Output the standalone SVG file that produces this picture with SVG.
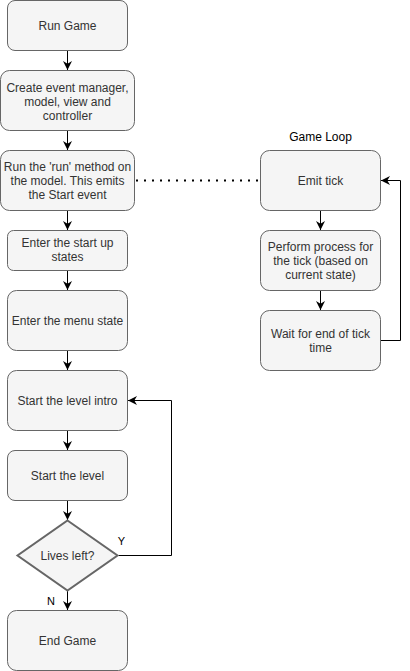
<svg xmlns="http://www.w3.org/2000/svg" width="410" height="671" viewBox="0 0 410 671">
<defs>
<style>
.box{fill:#f5f5f5;stroke:#666666;stroke-width:1}
.dia{fill:#f5f5f5;stroke:#666666;stroke-width:2}
.t{font-family:"Liberation Sans",Arial,sans-serif;font-size:12px;fill:#333333;text-anchor:middle}
.lbl{font-family:"Liberation Sans",Arial,sans-serif;font-size:11px;fill:#000000;text-anchor:middle}
.title{font-family:"Liberation Sans",Arial,sans-serif;font-size:12px;fill:#000000;text-anchor:middle}
.c{fill:none;stroke:#000000;stroke-width:1}
.dot{fill:none;stroke:#000000;stroke-width:2;stroke-dasharray:2 6}
</style>
<marker id="arr" viewBox="0 0 10 10" refX="10" refY="5" markerWidth="9" markerHeight="9" markerUnits="userSpaceOnUse" orient="auto">
<path d="M0,0 L10,5 L0,10 L3,5 z" fill="#000000"/>
</marker>
</defs>
<rect width="410" height="671" fill="#ffffff"/>
<g id="connectors">
<path class="c" d="M67.5,50.5 L67.5,70" marker-end="url(#arr)"/>
<path class="c" d="M67.5,130.5 L67.5,150" marker-end="url(#arr)"/>
<path class="c" d="M67.5,210.5 L67.5,230" marker-end="url(#arr)"/>
<path class="c" d="M67.5,270.5 L67.5,290" marker-end="url(#arr)"/>
<path class="c" d="M67.5,350.5 L67.5,370" marker-end="url(#arr)"/>
<path class="c" d="M67.5,430.5 L67.5,450" marker-end="url(#arr)"/>
<path class="c" d="M67.5,500.5 L67.5,520" marker-end="url(#arr)"/>
<path class="c" d="M67.5,591 L67.5,610" marker-end="url(#arr)"/>
<path class="c" d="M118.5,555.5 L171.5,555.5 L171.5,400.5 L128,400.5" marker-end="url(#arr)"/>
<path class="dot" d="M136,180.5 L259,180.5"/>
<path class="c" d="M320.5,210.5 L320.5,230" marker-end="url(#arr)"/>
<path class="c" d="M320.5,290.5 L320.5,310" marker-end="url(#arr)"/>
<path class="c" d="M380.5,340.5 L400.5,340.5 L400.5,180.5 L381,180.5" marker-end="url(#arr)"/>
<text class="lbl" x="121.5" y="545">Y</text>
<text class="lbl" x="51" y="605">N</text>
</g>
<g id="run-game"><rect class="box" x="7.5" y="0.5" width="120" height="50" rx="7.5"/><text class="t" x="67.5" y="30">Run Game</text></g>
<g id="create"><rect class="box" x="0.5" y="70.5" width="134" height="60" rx="9"/><text class="t" x="67.5" y="91.5">Create event manager,</text><text class="t" x="67.5" y="105.5">model, view and</text><text class="t" x="67.5" y="119.5">controller</text></g>
<g id="run-method"><rect class="box" x="0.5" y="150.5" width="134" height="60" rx="9"/><text class="t" x="67.5" y="171">Run the 'run' method on</text><text class="t" x="67.5" y="185">the model. This emits</text><text class="t" x="67.5" y="199">the Start event</text></g>
<g id="startup"><rect class="box" x="7.5" y="230.5" width="120" height="40" rx="6"/><text class="t" x="67.5" y="247">Enter the start up</text><text class="t" x="67.5" y="261">states</text></g>
<g id="menu"><rect class="box" x="7.5" y="290.5" width="120" height="60" rx="9"/><text class="t" x="67.5" y="325">Enter the menu state</text></g>
<g id="level-intro"><rect class="box" x="7.5" y="370.5" width="120" height="60" rx="9"/><text class="t" x="67.5" y="405">Start the level intro</text></g>
<g id="level"><rect class="box" x="7.5" y="450.5" width="120" height="50" rx="7.5"/><text class="t" x="67.5" y="480">Start the level</text></g>
<g id="lives"><polygon class="dia" points="67.5,520.5 117.5,555.5 67.5,590.5 17.5,555.5"/><text class="t" x="67.5" y="560">Lives left?</text></g>
<g id="end-game"><rect class="box" x="7.5" y="610.5" width="120" height="60" rx="9"/><text class="t" x="67.5" y="645">End Game</text></g>
<g id="game-loop-title"><text class="title" x="320.5" y="141">Game Loop</text></g>
<g id="emit-tick"><rect class="box" x="260.5" y="150.5" width="120" height="60" rx="9"/><text class="t" x="320.5" y="185">Emit tick</text></g>
<g id="perform"><rect class="box" x="260.5" y="230.5" width="120" height="60" rx="9"/><text class="t" x="320.5" y="251">Perform process for</text><text class="t" x="320.5" y="265">the tick (based on</text><text class="t" x="320.5" y="279">current state)</text></g>
<g id="wait"><rect class="box" x="260.5" y="310.5" width="120" height="60" rx="9"/><text class="t" x="320.5" y="338">Wait for end of tick</text><text class="t" x="320.5" y="352">time</text></g>
</svg>
